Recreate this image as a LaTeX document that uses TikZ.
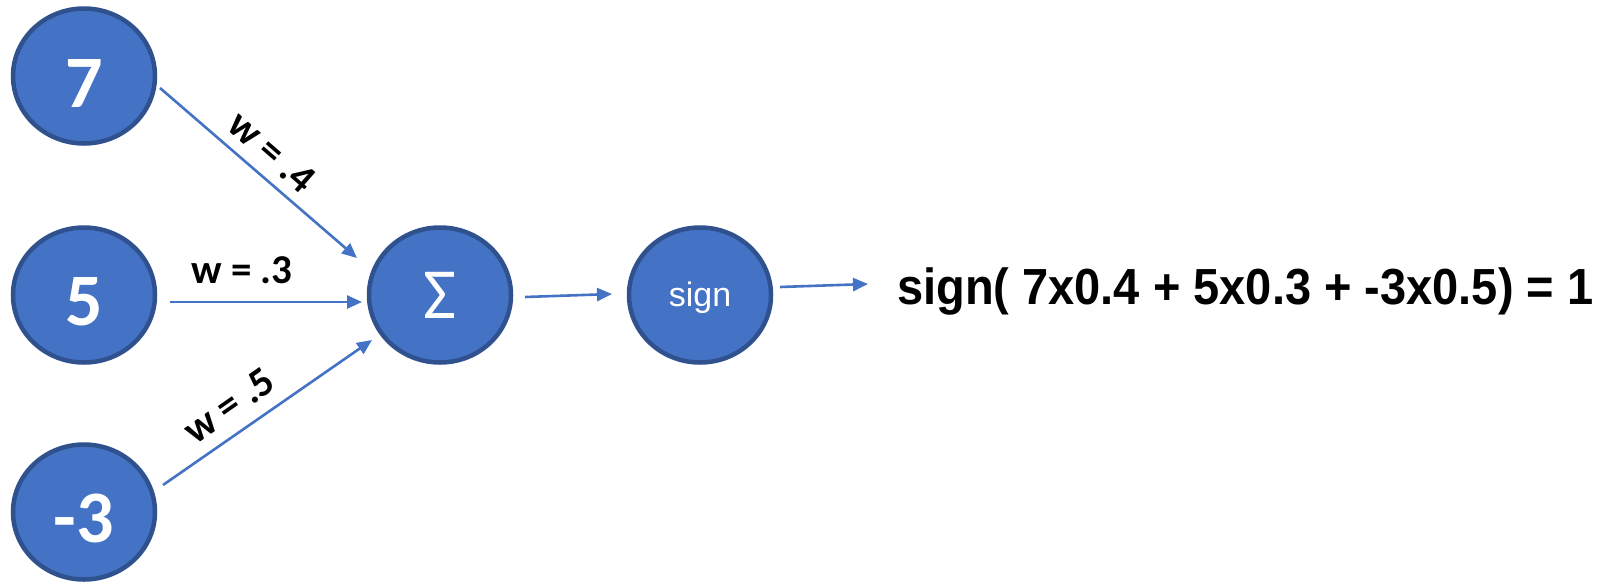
\documentclass[tikz,border=0pt]{standalone}
\usepackage{fontspec}
\setmainfont{Liberation Sans}
\newfontfamily\calib{Carlito}
\usetikzlibrary{shapes.geometric,arrows.meta}
\definecolor{nodefill}{HTML}{4472C4}
\definecolor{nodeline}{HTML}{2F528F}
\definecolor{wire}{HTML}{4472C4}
\tikzset{
  unit/.style={ellipse, draw=nodeline, fill=nodefill, line width=4.5pt,
    minimum width=142pt, minimum height=135pt, inner sep=0pt, text=white},
  inval/.style={unit, font=\calib\bfseries\fontsize{74}{74}\selectfont, text height=62pt},
  wire/.style={draw=wire, line width=2.6pt, -{Triangle[length=15pt,width=13pt]}},
  wlabel/.style={font=\calib\bfseries\fontsize{41}{41}\selectfont, inner sep=0pt}
}
\begin{document}
\begin{tikzpicture}[x=1pt,y=-1pt]
  \useasboundingbox (0,0) rectangle (1608,582);

  % input values
  \node[inval] (x1) at (84,76)  {7};
  \node[inval] (x2) at (84,295) {5};
  \node[inval] (x3) at (84,512) {-3};

  % summation and activation units
  \node[unit, font=\calib\fontsize{72}{72}\selectfont] (sum) at (440,295) {Σ};
  \node[unit, font=\fontsize{34}{34}\selectfont, text height=31pt] (act) at (700,295) {sign};

  % weighted connections
  \coordinate (a1s) at (160,88);   \coordinate (a1e) at (357,258);
  \coordinate (a2s) at (170,302);  \coordinate (a2e) at (362,302);
  \coordinate (a3s) at (163,485);  \coordinate (a3e) at (372,340);
  \draw[wire] (a1s) -- (a1e);
  \draw[wire] (a2s) -- (a2e);
  \draw[wire] (a3s) -- (a3e);

  \node[wlabel, rotate=-41] (w1) at (272,152) {w = .4};
  \node[wlabel] (w2) at (242,270) {w = .3};
  \node[wlabel, rotate=35] (w3) at (229,406) {w = .5};

  % output path
  \coordinate (b1s) at (525,297);  \coordinate (b1e) at (612,294);
  \coordinate (b2s) at (780,287);  \coordinate (b2e) at (868,284);
  \draw[wire] (b1s) -- (b1e);
  \draw[wire] (b2s) -- (b2e);

  \node[anchor=base west, inner sep=0pt, yscale=1.08,
        font=\bfseries\fontsize{47}{47}\selectfont] (res) at (897,304)
        {sign( 7x0.4 + 5x0.3 + -3x0.5) = 1};
\end{tikzpicture}
\end{document}
